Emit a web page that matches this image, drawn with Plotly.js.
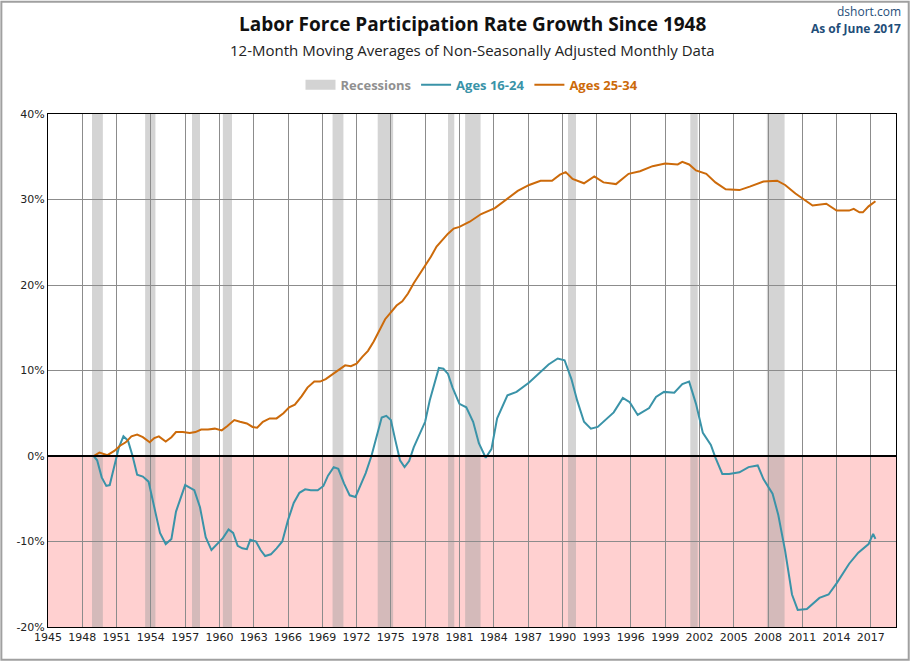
<!DOCTYPE html>
<html>
<head>
<meta charset="utf-8">
<script src="https://cdn.plot.ly/plotly-3.0.1.min.js"></script>
<style>body{margin:0;background:#fff}#chart{width:910px;height:661px}</style>
</head>
<body>
<div id="chart"></div>
<script>
'use strict';

// Ages 16-24, growth since 1948 (%)
const youngYears = [1949.0,1949.3,1949.7,1950.1,1950.4,1950.8,1951.2,1951.6,1952.0,1952.4,1952.8,1953.3,1953.8,1954.3,1954.8,1955.3,1955.8,1956.2,1956.6,1957.0,1957.4,1957.8,1958.3,1958.8,1959.3,1959.8,1960.3,1960.8,1961.2,1961.6,1962.0,1962.4,1962.7,1963.2,1963.6,1964.0,1964.5,1965.0,1965.5,1966.0,1966.5,1967.0,1967.5,1968.0,1968.6,1969.1,1969.5,1970.0,1970.4,1970.9,1971.4,1971.9,1972.3,1972.8,1973.3,1973.8,1974.2,1974.6,1975.0,1975.4,1975.8,1976.2,1976.6,1977.0,1977.5,1978.0,1978.4,1978.8,1979.2,1979.6,1980.0,1980.4,1980.8,1981.0,1981.6,1982.2,1982.7,1983.3,1983.8,1984.3,1985.2,1986.0,1987.1,1988.1,1988.8,1989.6,1990.2,1990.8,1991.3,1991.9,1992.5,1993.1,1993.8,1994.5,1995.3,1995.9,1996.6,1997.6,1998.2,1998.9,1999.8,2000.5,2001.1,2001.7,2002.3,2003.0,2003.4,2004.0,2004.6,2005.5,2006.3,2007.1,2007.6,2008.4,2008.9,2009.5,2010.1,2010.6,2011.4,2012.5,2013.3,2014.0,2015.1,2015.9,2016.8,2017.2,2017.4];
const youngVals = [0,-0.5,-2.5,-3.5,-3.4,-1,1,2.3,1.8,0,-2.2,-2.4,-3,-6,-9,-10.3,-9.7,-6.5,-5,-3.4,-3.7,-4,-6,-9.5,-11,-10.3,-9.6,-8.6,-9,-10.5,-10.8,-10.9,-9.8,-10,-11,-11.7,-11.5,-10.8,-10,-7.5,-5.5,-4.3,-3.9,-4,-4,-3.5,-2.3,-1.3,-1.5,-3.2,-4.6,-4.8,-3.6,-2,0,2.5,4.5,4.7,4.2,1.8,-0.5,-1.3,-0.6,1,2.5,4,6.5,8.5,10.3,10.2,9.6,8,6.8,6.1,5.7,4,1.5,-0.2,0.8,4.4,7.1,7.5,8.6,9.9,10.7,11.4,11.2,9,6.5,4,3.2,3.4,4.2,5.1,6.8,6.3,4.8,5.6,6.9,7.5,7.4,8.4,8.7,6.1,2.7,1.3,-0.2,-2.1,-2.1,-1.9,-1.3,-1.1,-2.7,-4.4,-6.9,-11.1,-16.2,-18,-17.9,-16.6,-16.2,-14.9,-12.6,-11.3,-10.3,-9.1,-9.7];

// Ages 25-34, growth since 1948 (%)
const adultYears = [1949.0,1949.5,1950.2,1950.8,1951.3,1951.8,1952.3,1952.8,1953.3,1953.9,1954.3,1954.7,1955.3,1955.8,1956.2,1956.8,1957.4,1957.9,1958.4,1959.0,1959.6,1960.2,1960.7,1961.3,1961.8,1962.4,1962.9,1963.3,1963.8,1964.4,1965.0,1965.6,1966.1,1966.6,1967.2,1967.7,1968.3,1968.8,1969.3,1969.9,1970.5,1971.0,1971.5,1972.0,1972.5,1973.0,1973.5,1974.0,1974.5,1975.0,1975.5,1976.0,1976.5,1977.0,1977.5,1978.0,1978.5,1979.0,1979.5,1980.0,1980.5,1981.0,1981.9,1982.9,1984.1,1985.2,1986.1,1987.1,1988.1,1989.1,1989.8,1990.3,1990.9,1991.9,1992.8,1993.6,1994.7,1995.8,1996.8,1997.9,1999.0,2000.1,2000.5,2001.1,2001.7,2002.6,2003.4,2004.3,2005.5,2006.4,2007.6,2008.8,2009.5,2010.4,2011.2,2011.9,2013.1,2014.0,2015.1,2015.5,2016.0,2016.3,2016.8,2017.4];
const adultVals = [0,0.4,0.1,0.6,1.2,1.6,2.3,2.5,2.2,1.6,2.1,2.3,1.7,2.2,2.8,2.8,2.7,2.8,3.1,3.1,3.2,3.0,3.5,4.2,4.0,3.8,3.4,3.3,4.0,4.4,4.4,5,5.7,6,7,8,8.7,8.7,9,9.6,10.2,10.6,10.5,10.8,11.6,12.3,13.4,14.8,16,16.8,17.6,18.1,19,20.2,21.2,22.3,23.3,24.5,25.3,26,26.6,26.8,27.4,28.3,29,30.1,31,31.7,32.2,32.2,32.9,33.2,32.4,31.9,32.7,32,31.8,33,33.3,33.9,34.2,34.1,34.4,34.1,33.4,33,32,31.2,31.1,31.5,32.1,32.2,31.7,30.7,30,29.3,29.5,28.7,28.7,28.9,28.5,28.5,29.2,29.8];

// NBER recessions (decimal years)
const recStart = [1948.85,1953.5,1957.6,1960.3,1969.9,1973.85,1980.0,1981.5,1990.5,2001.2,2007.9];
const recEnd   = [1949.8,1954.4,1958.3,1961.1,1970.85,1975.2,1980.55,1982.85,1991.2,2001.85,2009.45];

const xTicks = [];
for (let y = 1945; y <= 2017; y += 3) xTicks.push(y);
const yTicks = [-20, -10, 0, 10, 20, 30, 40];

const TEAL = '#3a93a8';
const ORANGE = '#cc6a0a';

const shapes = [{
    type: 'rect', xref: 'paper', yref: 'y', x0: 0, x1: 1, y0: -20, y1: 0,
    fillcolor: '#ffd0d0', line: {width: 0}, layer: 'below'
}];
recStart.forEach((s, i) => shapes.push({
    type: 'rect', xref: 'x', yref: 'paper', x0: s, x1: recEnd[i], y0: 0, y1: 1,
    fillcolor: 'rgba(160,160,160,0.45)', line: {width: 0}, layer: 'below'
}));
shapes.push({
    type: 'line', xref: 'paper', yref: 'y', x0: 0, x1: 1, y0: 0, y1: 0,
    line: {color: '#000', width: 2}
});
shapes.push({
    type: 'rect', xref: 'paper', yref: 'paper', x0: -0.055, x1: 1.015, y0: -0.064, y1: 1.219,
    line: {color: '#a0a0a0', width: 2}, fillcolor: 'rgba(0,0,0,0)'
});

const traces = [{
    x: [null], y: [null], name: '<b><span style="color:#909090">Recessions</span></b>',
    mode: 'lines', line: {color: '#d3d3d3', width: 10}
}, {
    x: youngYears, y: youngVals, name: '<b><span style="color:' + TEAL + '">Ages 16-24</span></b>',
    mode: 'lines', line: {color: TEAL, width: 2}
}, {
    x: adultYears, y: adultVals, name: '<b><span style="color:' + ORANGE + '">Ages 25-34</span></b>',
    mode: 'lines', line: {color: ORANGE, width: 2}
}];

const layout = {
    width: 910, height: 661,
    margin: {l: 48, r: 14, t: 114, b: 34},
    paper_bgcolor: '#fff', plot_bgcolor: '#fff',
    font: {family: 'DejaVu Sans, Verdana, sans-serif', size: 11, color: '#222'},
    showlegend: true,
    legend: {orientation: 'h', x: 0.5, xanchor: 'center', y: 1.057, yanchor: 'middle',
             font: {family: 'Open Sans, sans-serif', size: 13}, itemwidth: 30},
    xaxis: {
        range: [1945, 2019.2], tickvals: xTicks, ticktext: xTicks.map(String),
        showgrid: true, gridcolor: '#8c8c8c', gridwidth: 1, zeroline: false,
        showline: true, linecolor: '#000', mirror: true, ticks: '', tickfont: {size: 11}
    },
    yaxis: {
        range: [-20, 40], tickvals: yTicks, ticktext: yTicks.map(v => v + '%'),
        showgrid: true, gridcolor: '#8c8c8c', gridwidth: 1, zeroline: false,
        showline: true, linecolor: '#000', mirror: true, ticks: '', tickfont: {size: 11}
    },
    shapes: shapes,
    annotations: [{
        xref: 'paper', yref: 'paper', x: 0.5, y: 1.175, yanchor: 'middle', showarrow: false,
        text: '<b>Labor Force Participation Rate Growth Since 1948</b>',
        font: {family: 'Open Sans, sans-serif', size: 19, color: '#111'}
    }, {
        xref: 'paper', yref: 'paper', x: 0.5, y: 1.124, yanchor: 'middle', showarrow: false,
        text: '12-Month Moving Averages of Non-Seasonally Adjusted Monthly Data',
        font: {family: 'Open Sans, sans-serif', size: 15, color: '#222'}
    }, {
        xref: 'paper', yref: 'paper', x: 1.008, y: 1.199, xanchor: 'right', yanchor: 'middle', showarrow: false,
        text: 'dshort.com', font: {family: 'Open Sans, sans-serif', size: 12, color: '#1f4e79'}
    }, {
        xref: 'paper', yref: 'paper', x: 1.008, y: 1.166, xanchor: 'right', yanchor: 'middle', showarrow: false,
        text: '<b>As of June 2017</b>', font: {family: 'Open Sans, sans-serif', size: 12, color: '#1f4e79'}
    }]
};

Plotly.newPlot('chart', traces, layout, {displayModeBar: false, staticPlot: true});
</script>
</body>
</html>
